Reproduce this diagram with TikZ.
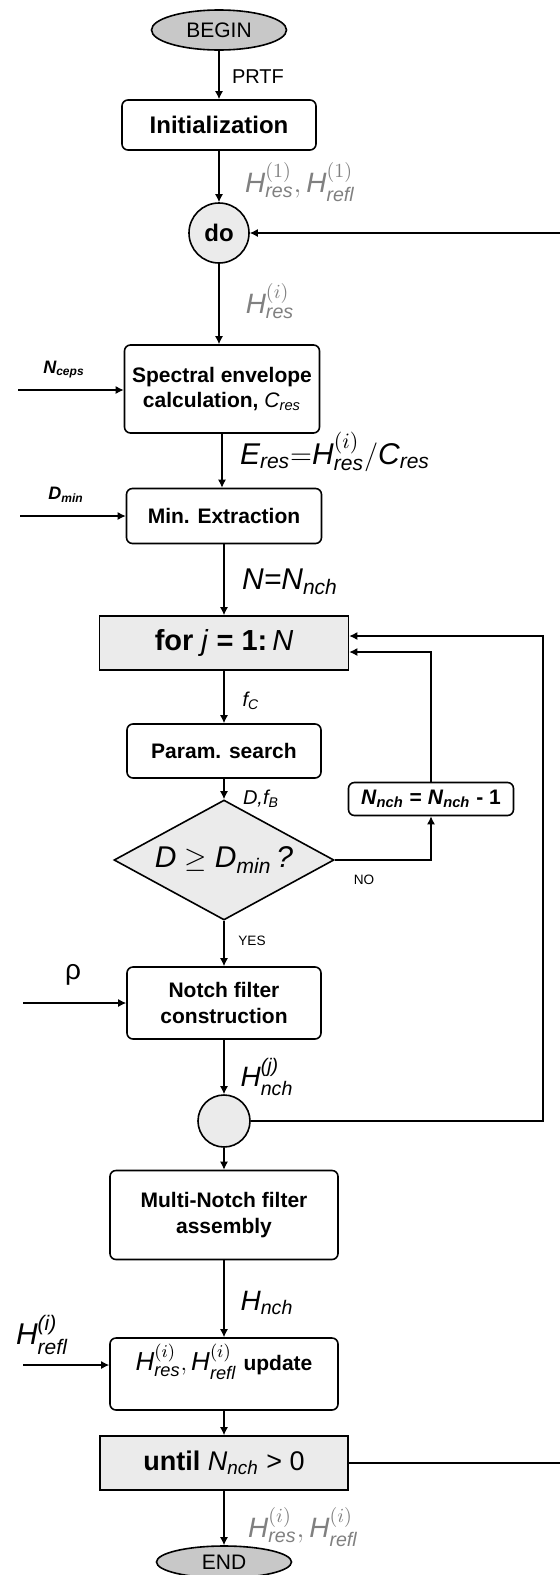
\documentclass[tikz,border=0pt]{standalone}
\usepackage{amsmath}
\usepackage{fontspec}
\setmainfont{Liberation Sans}
\usetikzlibrary{calc,shapes.geometric,arrows.meta}
\definecolor{boxgray}{RGB}{235,235,235}
\definecolor{termgray}{RGB}{200,200,200}
\definecolor{siggray}{RGB}{128,128,128}
\newcommand{\fsz}[1]{\fontsize{#1}{\dimexpr#1pt*6/5\relax}\selectfont}
\newcommand{\Hsym}[2]{\textit{H}^{#1}_{\textit{#2}}}
\begin{document}
\begin{tikzpicture}[x=0.5pt,y=-0.5pt,line width=0.65pt,>={Latex[length=4pt,width=4pt]},
    proc/.style={draw, rounded corners=3pt, line width=0.8pt, align=center, inner sep=0pt, font=\bfseries\fsz{10.5}},
    loopbox/.style={draw, fill=boxgray, line width=0.8pt, inner sep=0pt},
    term/.style={draw, ellipse, fill=termgray, line width=0.8pt, inner sep=0pt, minimum width=67.5pt, minimum height=20pt, font=\fsz{10.5}},
    joint/.style={draw, circle, fill=boxgray, line width=0.8pt, inner sep=0pt},
    sig/.style={font=\fsz{14}, text=siggray}]
  \useasboundingbox (0,0) rectangle (559,1575);
  % main column
  \node[term] (begin) at (219,30) {BEGIN};
  \node[proc, minimum width=97pt, minimum height=25pt, font=\bfseries\fsz{12}] (init) at (219,125) {Initialization};
  \node[joint, minimum size=30pt, font=\bfseries\fsz{12}] (do) at (219,233) {do};
  \node[proc, minimum width=97.5pt, minimum height=44pt] (spec) at (222,389) {Spectral envelope\\calculation, {\mdseries\textit{C}$_{\textit{res}}$}};
  \node[proc, minimum width=97.5pt, minimum height=27.5pt] (minx) at (224,516) {Min. Extraction};
  \node[loopbox, minimum width=124.5pt, minimum height=27pt, font=\fsz{14.5}] (for) at (224,643) {\textbf{for} \textit{j} \textbf{= 1:}\,\textit{N}};
  \node[proc, minimum width=97pt, minimum height=27pt] (param) at (224,751) {Param. search};
  \node[diamond, draw, fill=boxgray, line width=0.8pt, aspect=1.8, inner sep=0pt, minimum width=110pt, minimum height=60pt, font=\fsz{15}] (test) at (224,860) {$\textit{D}\geq\textit{D}_{\textit{min}}$\,\textit{?}};
  \node[proc, minimum width=82.5pt, minimum height=16.5pt] (dec) at (431,799) {\textit{N}$_{\textit{nch}}$ = \textit{N}$_{\textit{nch}}$ - 1};
  \node[proc, minimum width=97pt, minimum height=36pt] (notch) at (224,1003) {Notch filter\\construction};
  \node[joint, minimum size=26pt] (join) at (224,1121) {};
  \node[proc, minimum width=114pt, minimum height=44.5pt] (multi) at (224,1215) {Multi-Notch filter\\assembly};
  \node[proc, minimum width=114pt, minimum height=36pt] (upd) at (224,1374) {};
  \node[font=\fsz{13}] (updtxt) at (224,1362) {$\Hsym{(i)}{res},\Hsym{(i)}{refl}$ \textbf{\fsz{10.5}update}};
  \node[loopbox, minimum width=124pt, minimum height=27pt, font=\fsz{13.5}] (until) at (224,1463) {\textbf{until} \textit{N}$_{\textit{nch}}$ > 0};
  \node[term, minimum height=16pt] (end) at (224,1562) {END};
  % signal labels
  \node[font=\fsz{10}] (prtf) at (258,77) {PRTF};
  \node[sig] (hone) at (300,182) {$\Hsym{(1)}{res},\Hsym{(1)}{refl}$};
  \node[sig] (hres) at (270,301) {$\Hsym{(i)}{res}$};
  \node[font=\bfseries\itshape\fsz{9}] (nceps) at (64,370) {N$_{\textit{ceps}}$};
  \node[font=\fsz{15}] (eres) at (335,452) {$\textit{E}_{\textit{res}}{=}\Hsym{(i)}{res}/\textit{C}_{\textit{res}}$};
  \node[font=\bfseries\itshape\fsz{9}] (dmin) at (66,495) {D$_{\textit{min}}$};
  \node[font=\fsz{15}] (nn) at (290,582) {\textit{N=N}$_{\textit{nch}}$};
  \node[font=\itshape\fsz{10}] (fc) at (251,701) {f$_{\textit{C}}$};
  \node[font=\itshape\fsz{10}] (dfb) at (261,799) {D,f$_{\textit{B}}$};
  \node[font=\fsz{6.8}] (no) at (364,880) {NO};
  \node[font=\fsz{6.8}] (yes) at (252,941) {YES};
  \node[font=\fsz{14}] (rho) at (73,975) {ρ};
  \node[font=\fsz{14}] (hj) at (267,1077) {$\textit{H}^{\textit{(j)}}_{\textit{nch}}$};
  \node[font=\fsz{14}] (hnch) at (267,1303) {$\textit{H}_{\textit{nch}}$};
  \node[font=\fsz{15}] (hrefl) at (42,1335) {$\textit{H}^{\textit{(i)}}_{\textit{refl}}$};
  \node[sig] (hout) at (303,1527) {$\Hsym{(i)}{res},\Hsym{(i)}{refl}$};
  % free ends
  \coordinate (ceps) at (18,390);
  \coordinate (dm) at (20,516);
  \coordinate (rh) at (23,1003);
  \coordinate (rf) at (23,1365);
  \coordinate (inner) at (543,0);
  \coordinate (outer) at (580,0);
  \foreach \a/\b in {begin/init,init/do,do/spec,spec/minx,minx/for,for/param,param/test,test/notch,notch/join,join/multi,multi/upd,upd/until,until/end}
    \draw[->] (\a) -- (\a |- \b.north);
  \foreach \a/\b in {ceps/spec,dm/minx,rh/notch,rf/upd}
    \draw[->] (\a) -- (\a -| \b.west);
  \draw[->] (test.east) -| (dec.south);
  \draw[->] (dec.north) |- ($(for.east)+(0,9)$);
  \draw[->] (join.east) -- (join.east -| inner) |- ($(for.east)+(0,-7)$);
  \draw[->] (until.east) -- (until.east -| outer) |- (do.east);
\end{tikzpicture}
\end{document}
